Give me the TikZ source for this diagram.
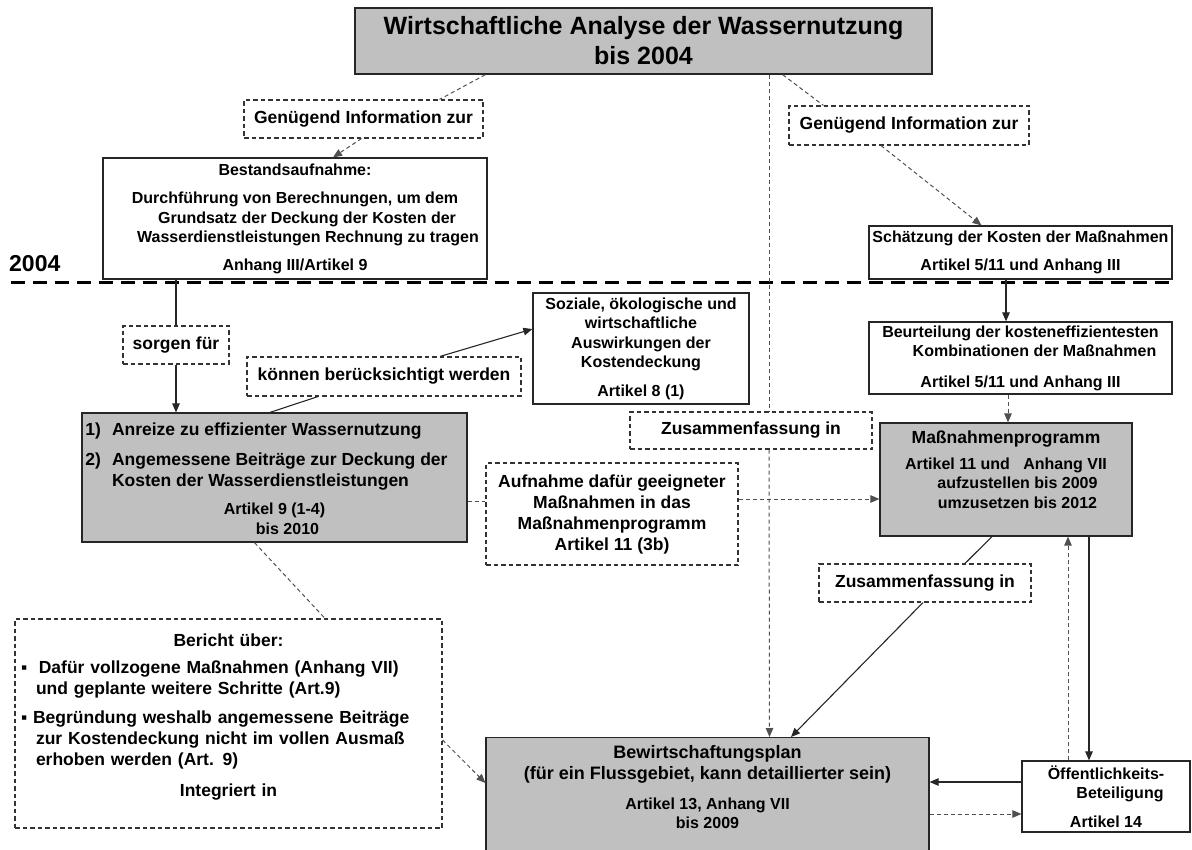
\documentclass[tikz,border=0pt]{standalone}
\usepackage{fontspec}
\setmainfont{Liberation Sans}
\usepackage{tikz}
\usetikzlibrary{arrows.meta,positioning}
\usepackage{xcolor}
\definecolor{boxgray}{HTML}{C0C0C0}
\definecolor{linegray}{HTML}{505050}
\newcommand{\ftitle}{\fontsize{25}{30}\selectfont\bfseries}
\newcommand{\flbl}{\fontsize{17.5}{21}\selectfont\bfseries}
\newcommand{\fbody}{\fontsize{16}{19.5}\selectfont\bfseries}

\begin{document}
\begin{tikzpicture}[
x=1pt,y=-1pt,
box/.style={rectangle,draw=black!85,line width=1.2pt,fill=white,align=center,inner sep=2pt,font=\fbody},
gbox/.style={box,fill=boxgray},
lbl/.style={rectangle,draw=black!80,dash pattern=on 4.5pt off 3pt,line width=1.1pt,fill=white,align=center,inner sep=2pt,font=\flbl},
sline/.style={draw=black!85,line width=1.1pt},
dline/.style={draw=linegray,line width=1pt,dash pattern=on 4pt off 3pt},
yline/.style={draw=black,line width=3pt,dash pattern=on 14pt off 8pt},
arr/.style={sline,-{Triangle[length=9pt,width=7.5pt]}},
darr/.style={dline,-{Triangle[length=9pt,width=7.5pt]}}
]
\useasboundingbox (0,0) rectangle (1192,850);

\node[gbox,font=\ftitle,line width=1.5pt,minimum width=577,minimum height=66] (title) at (643.5,41) {Wirtschaftliche Analyse der Wassernutzung\\bis 2004};
\node[lbl,minimum width=239,minimum height=38] (gen1) at (363.5,119) {Genügend Information zur};
\node[box,minimum width=384,minimum height=121] (bestand) at (295,218.5) {Bestandsaufnahme:\\[9pt]
Durchführung von Berechnungen, um dem\\
\hspace*{24pt}Grundsatz der Deckung der Kosten der\\
\hspace*{26pt}Wasserdienstleistungen Rechnung zu tragen\\[8pt]
Anhang III/Artikel 9};
\node[lbl,minimum width=240,minimum height=39] (gen2) at (909,125.5) {Genügend Information zur};
\node[box,minimum width=303,minimum height=53] (schaetz) at (1020.5,252.5) {Schätzung der Kosten der Maßnahmen\\[9pt]Artikel 5/11 und Anhang III};

\node[font=\fontsize{23}{27}\selectfont\bfseries,anchor=base west,inner sep=0pt] (yr) at (9,272) {2004};
\draw[yline] (11,283) -- (1172,283);

\node[lbl,minimum width=106,minimum height=38] (sorgen) at (176,345) {sorgen für};
\node[lbl,minimum width=274,minimum height=39] (koennen) at (384,376.5) {können berücksichtigt werden};
\node[box,minimum width=216,minimum height=111] (soziale) at (641,348.5) {Soziale, ökologische und\\wirtschaftliche\\Auswirkungen der\\Kostendeckung\\[9pt]Artikel 8 (1)};
\node[box,minimum width=303,minimum height=72] (beurt) at (1020.5,358) {Beurteilung der kosteneffizientesten\\\hspace*{28pt}Kombinationen der Maßnahmen\\[11pt]Artikel 5/11 und Anhang III};

\node[gbox,minimum width=385,minimum height=129] (anreize) at (274.5,477.5) {{\flbl\begin{tabular}{@{}l@{\hspace{11pt}}l@{}}
1) & Anreize zu effizienter Wassernutzung\\[9pt]
2) & Angemessene Beiträge zur Deckung der\\
 & Kosten der Wasserdienstleistungen
\end{tabular}}\hspace*{16pt}\\[10pt]
Artikel 9 (1-4)\\\hspace*{26pt}bis 2010};
\node[lbl,minimum width=242,minimum height=37] (zus1) at (751,430.5) {Zusammenfassung in};
\node[lbl,minimum width=252,minimum height=102] (aufnahme) at (612,514) {Aufnahme dafür geeigneter\\Maßnahmen in das\\Maßnahmenprogramm\\Artikel 11 (3b)};
\node[gbox,minimum width=252,minimum height=113] (massn) at (1006,479.5) {{\flbl Maßnahmenprogramm}\\[6pt]
Artikel 11 und\ \ \ Anhang VII\\
\hspace*{23pt}aufzustellen bis 2009\\
\hspace*{23pt}umzusetzen bis 2012\\\rule{0pt}{14pt}};
\node[lbl,minimum width=212,minimum height=38] (zus2) at (925,583) {Zusammenfassung in};

\node[lbl,align=left,text width=415,inner xsep=6pt,minimum height=209] (bericht) at (228.5,723.5) {\makebox[415pt]{Bericht über:}\\[6pt]
▪\ \ Dafür vollzogene Maßnahmen (Anhang VII)\\
\hspace*{15pt}und geplante weitere Schritte (Art.9)\\[8pt]
▪ Begründung weshalb angemessene Beiträge\\
\hspace*{15pt}zur Kostendeckung nicht im vollen Ausmaß\\
\hspace*{15pt}erhoben werden (Art. 9)\\[10pt]
\makebox[415pt]{Integriert in}\\[-4pt]\rule{0pt}{4pt}};
\node[gbox,anchor=north,minimum width=443,inner ysep=8pt,font=\fontsize{18}{21}\selectfont\bfseries] (bewirt) at (707.5,737) {Bewirtschaftungsplan\\(für ein Flussgebiet, kann detaillierter sein)\\[9pt]
{\fbody Artikel 13, Anhang VII}\\[-2pt]{\fbody bis 2009}\\\rule{0pt}{60pt}};
\node[box,minimum width=168,minimum height=71] (oeff) at (1106,796.5) {Öffentlichkeits-\\\hspace*{28pt}Beteiligung\\[9pt]Artikel 14};

\draw[dline] ([xshift=131]title.south west) -- ([xshift=76]gen1.north);
\draw[darr] ([xshift=-2]gen1.south) -- ([xshift=38]bestand.north);
\draw[dline] ([xshift=-150]title.south east) -- ([xshift=35]gen2.north west);
\draw[darr] ([xshift=-28]gen2.south) -- ([xshift=-39]schaetz.north);
\draw[dline] ([xshift=125.5]title.south) -- ([xshift=18]zus1.north);
\draw[darr] ([xshift=18]zus1.south) -- ([xshift=62]bewirt.north);
\draw[arr] ([xshift=-14.5]schaetz.south) -- ([xshift=-14.5]beurt.north);
\draw[darr] ([xshift=-12.5]beurt.south) -- ([xshift=2]massn.north);
\draw[sline] ([xshift=-119]bestand.south) -- (sorgen.north);
\draw[arr] (sorgen.south) -- ([xshift=-98.5]anreize.north);
\draw[sline] ([xshift=-4.5]anreize.north) -- ([xshift=-66]koennen.south);
\draw[arr] ([xshift=56]koennen.north) -- ([yshift=19.5]soziale.west);
\draw[dline] ([yshift=-23.5]anreize.east) -- ([yshift=13]aufnahme.west);
\draw[darr] ([yshift=15]aufnahme.east) -- ([yshift=-19.5]massn.west);
\draw[dline] ([xshift=-20]anreize.south) -- ([xshift=96.5]bericht.north);
\draw[darr] ([yshift=-16.5]bericht.east) -- ([yshift=-46]bewirt.north west);
\draw[sline] ([xshift=-14]massn.south) -- ([xshift=40]zus2.north);
\draw[arr] ([xshift=-2]zus2.south) -- ([xshift=83.5]bewirt.north);
\draw[arr] ([xshift=83]massn.south) -- ([xshift=-17]oeff.north);
\draw[darr] ([xshift=-38]oeff.north) -- ([xshift=62]massn.south);
\draw[arr] ([yshift=14.5]oeff.west) -- ([yshift=-45]bewirt.north east);
\draw[darr] ([yshift=-77]bewirt.north east) -- ([yshift=-17.5]oeff.west);
\end{tikzpicture}
\end{document}
